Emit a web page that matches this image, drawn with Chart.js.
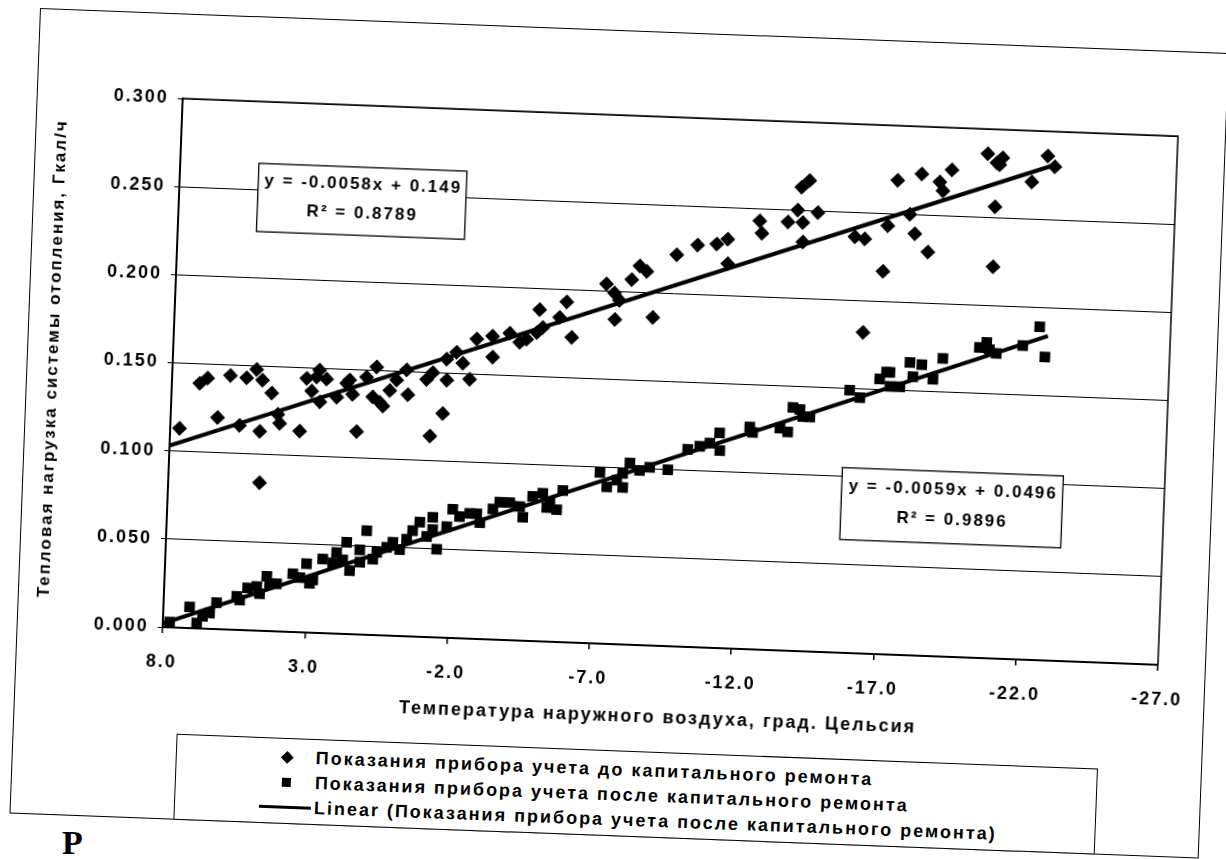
<!DOCTYPE html>
<html>
<head>
<meta charset="utf-8">
<script src="https://cdn.jsdelivr.net/npm/chart.js@4.4.1/dist/chart.umd.min.js"></script>
<style>
  html,body{margin:0;padding:0;background:#fff;width:1226px;height:859px;overflow:hidden}
  #sheet{position:absolute;left:40px;top:8px;width:1190px;height:806px;transform-origin:0 0;transform:rotate(2.17deg)}
  #frame{position:absolute;left:0;top:0;width:1190px;height:806px;box-sizing:border-box;border:1.5px solid #000}
  #plot{position:absolute;left:0;top:0}
  #legend{position:absolute;left:164px;top:720px;width:922px;height:86px;box-sizing:border-box;border:1.5px solid #000;background:#fff;
    font:bold 18px "Liberation Sans",Arial,sans-serif;letter-spacing:2px;color:#000}
  .lg-row{position:absolute;left:0;height:25px;line-height:25px;white-space:nowrap}
  .lg-txt{position:absolute;left:139px;top:0}
  .lg-dia{position:absolute;left:106px;top:8px;width:9px;height:9px;background:#000;transform:rotate(45deg)}
  .lg-sq{position:absolute;left:106px;top:8px;width:9px;height:9px;background:#000}
  .lg-line{position:absolute;left:84px;top:11px;width:52px;height:3px;background:#000}
  #caption{position:absolute;left:62px;top:824px;font:bold 34px "Liberation Serif",serif;color:#000}
</style>
</head>
<body>
<div id="sheet">
  <div id="frame"></div>
  <canvas id="plot" width="1190" height="710"></canvas>
  <div id="legend"></div>
</div>
<div id="caption">Р</div>
<script>
  // axis ticks and titles
  var X_TICKS = [8, 3, -2, -7, -12, -17, -22, -27];
  var Y_TICKS = [0, 0.05, 0.1, 0.15, 0.2, 0.25, 0.3];
  var X_TITLE = 'Температура наружного воздуха, град. Цельсия';
  var Y_TITLE = 'Тепловая нагрузка системы отопления, Гкал/ч';
  var SERIES_LABELS = [
    'Показания прибора учета до капитального ремонта',
    'Показания прибора учета после капитального ремонта',
    'Linear (Показания прибора учета после капитального ремонта)'
  ];

  // before repair: outdoor temp / heat load (diamonds)
  var BEFORE_T = [7.67,7.02,6.75,6.35,5.95,5.38,5.04,4.82,4.48,4.85,5.57,4.24,4.16,4.79,3.45,3.27,2.92,2.57,3.08,2.78,
    2.19,1.64,1.76,1.45,1.17,0.83,0.93,0.56,0.34,0.11,-0.23,-0.30,-0.94,-1.15,-1.13,-1.55,-1.62,-1.96,-2.19,-2.45,
    -2.65,-3.20,-3.23,-3.80,-4.40,-4.75,-4.82,-4.95,-5.76,-5.53,-5.98,-7.13,-7.42,-7.61,-7.47,-8.01,-8.28,-8.53,-8.80,-9.56,
    -10.28,-10.95,-11.33,-11.36,-12.43,-12.52,-13.42,-13.75,-13.94,-13.97,-13.86,-14.13,-14.46,-15.79,-16.14,-16.20,-16.82,-16.93,-17.22,-17.69,
    -17.89,-18.06,-18.37,-18.70,-18.82,-19.11,-20.35,-20.68,-20.67,-20.68,-20.88,-20.78,-21.93,-22.46,-22.72,
    0.68,2.83,1.86,-1.65,-4.16];
  var BEFORE_Q = [0.113,0.139,0.142,0.120,0.144,0.143,0.148,0.142,0.135,0.113,0.116,0.123,0.118,0.084,0.114,0.144,0.145,0.144,0.137,0.131,
    0.134,0.136,0.144,0.115,0.146,0.152,0.135,0.130,0.139,0.145,0.151,0.137,0.146,0.150,0.114,0.127,0.158,0.162,0.156,0.147,
    0.170,0.172,0.160,0.174,0.171,0.175,0.188,0.178,0.193,0.184,0.173,0.204,0.199,0.195,0.184,0.207,0.215,0.212,0.186,0.222,
    0.228,0.229,0.232,0.218,0.243,0.236,0.243,0.250,0.243,0.232,0.263,0.267,0.249,0.236,0.235,0.182,0.217,0.243,0.269,0.250,
    0.239,0.273,0.229,0.269,0.264,0.276,0.286,0.281,0.256,0.222,0.284,0.280,0.271,0.286,0.280,
    0.132,0.149,0.142,0.146,0.169];

  // after repair (squares)
  var AFTER_T = [7.76,7.08,6.81,6.37,6.14,5.44,5.07,4.75,4.41,4.06,3.50,3.03,2.79,2.47,1.99,1.65,1.51,1.18,0.96,0.71,
    0.24,-0.22,-0.45,-0.89,-1.34,-1.52,-1.84,-2.28,-2.63,-3.00,-3.44,-4.02,-4.50,-4.82,-5.43,-5.33,-5.68,-5.87,-7.15,-7.41,
    -7.75,-7.97,-8.19,-8.54,-8.89,-9.53,-10.20,-10.97,-11.30,-11.33,-12.35,-12.46,-13.41,-13.69,-13.84,-14.09,-14.45,-15.81,-16.18,-16.85,
    -17.20,-17.57,-17.89,-18.31,-18.01,-18.72,-19.04,-20.56,-20.66,-20.91,-17.08,-20.31,-21.83,-22.40,-22.62,
    6.61,5.33,4.64,4.30,3.25,2.90,2.11,1.77,1.16,0.58,0.03,-0.65,-1.15,-1.35,-2.03,-2.88,-3.67,-4.38,-5.17,
    -7.95,-10.62,-14.20,-17.22];
  var AFTER_Q = [0.003,0.012,0.003,0.009,0.015,0.019,0.024,0.025,0.031,0.027,0.033,0.039,0.030,0.042,0.046,0.052,0.036,0.048,0.059,0.043,
    0.050,0.049,0.055,0.065,0.068,0.050,0.063,0.069,0.071,0.066,0.074,0.078,0.070,0.082,0.079,0.076,0.075,0.086,0.097,0.089,
    0.093,0.089,0.103,0.099,0.101,0.100,0.112,0.116,0.122,0.112,0.126,0.123,0.126,0.124,0.138,0.137,0.133,0.149,0.145,0.156,
    0.160,0.152,0.166,0.165,0.158,0.157,0.169,0.179,0.175,0.173,0.160,0.176,0.178,0.189,0.172,
    0.007,0.017,0.021,0.027,0.031,0.028,0.040,0.042,0.041,0.047,0.053,0.060,0.057,0.061,0.073,0.071,0.078,0.076,0.084,
    0.097,0.114,0.133,0.152];

  // trend line ends
  var TREND_BEFORE_T = [8, -22.7], TREND_BEFORE_Q = [0.103, 0.281];
  var TREND_AFTER_T = [8, -22.7], TREND_AFTER_Q = [0.002, 0.184];
  var EQ_BEFORE = ['y = -0.0058x + 0.149', 'R² = 0.8789'];
  var EQ_AFTER = ['y = -0.0059x + 0.0496', 'R² = 0.9896'];

  // label boxes as fractions of the plot area: left, top, width, height
  var EQ_BOX_BEFORE = [0.079, 0.117, 0.209, 0.129];
  var EQ_BOX_AFTER = [0.676, 0.650, 0.222, 0.136];

  var FONT = '"Liberation Sans", Arial, sans-serif';

  function pts(xs, ys){ return xs.map(function(x, i){ return {x: x, y: ys[i]}; }); }

  function drawEq(ctx, a, lines, box){
    var w = a.right - a.left, h = a.bottom - a.top;
    var x = a.left + box[0]*w, y = a.top + box[1]*h, bw = box[2]*w, bh = box[3]*h;
    ctx.fillStyle = '#fff'; ctx.fillRect(x, y, bw, bh);
    ctx.strokeStyle = '#000'; ctx.lineWidth = 1.3; ctx.strokeRect(x, y, bw, bh);
    ctx.fillStyle = '#000'; ctx.font = 'bold 17px ' + FONT;
    ctx.textAlign = 'center'; ctx.textBaseline = 'middle';
    ctx.fillText(lines[0], x + bw/2 + 1, y + bh*0.25);
    ctx.fillText(lines[1], x + bw/2 + 1, y + bh*0.68);
  }

  var decor = {
    id: 'decor',
    beforeDraw: function(chart){ chart.ctx.letterSpacing = '2px'; },
    afterDatasetsDraw: function(chart){
      var ctx = chart.ctx, a = chart.chartArea;
      ctx.save();
      ctx.strokeStyle = '#000'; ctx.lineWidth = 1.5;
      ctx.beginPath(); ctx.moveTo(a.left, a.top); ctx.lineTo(a.right, a.top); ctx.lineTo(a.right, a.bottom); ctx.stroke();
      drawEq(ctx, a, EQ_BEFORE, EQ_BOX_BEFORE);
      drawEq(ctx, a, EQ_AFTER, EQ_BOX_AFTER);
      ctx.restore();
    },
    afterDraw: function(chart){
      var ctx = chart.ctx, a = chart.chartArea;
      ctx.save();
      ctx.fillStyle = '#000'; ctx.textAlign = 'center'; ctx.textBaseline = 'middle';
      ctx.font = 'bold 18px ' + FONT;
      ctx.fillText(X_TITLE, (a.left + a.right)/2, a.bottom + 72);
      ctx.font = 'bold 17px ' + FONT;
      ctx.translate(26, (a.top + a.bottom)/2);
      ctx.rotate(-Math.PI/2);
      ctx.fillText(Y_TITLE, 0, 0);
      ctx.restore();
    }
  };

  var chart = new Chart(document.getElementById('plot'), {
    type: 'scatter',
    data: {
      datasets: [
        {label: SERIES_LABELS[0], data: pts(BEFORE_T, BEFORE_Q), pointStyle: 'rectRot', pointRadius: 7.5,
          backgroundColor: '#000', borderColor: '#000', borderWidth: 0, order: 2, legend: 'dia'},
        {label: SERIES_LABELS[1], data: pts(AFTER_T, AFTER_Q), pointStyle: 'rect', pointRadius: 7.5,
          backgroundColor: '#000', borderColor: '#000', borderWidth: 0, order: 2, legend: 'sq'},
        {label: 'Linear (' + SERIES_LABELS[0] + ')', data: pts(TREND_BEFORE_T, TREND_BEFORE_Q), showLine: true,
          pointRadius: 0, borderColor: '#000', borderWidth: 4, order: 1},
        {label: SERIES_LABELS[2], data: pts(TREND_AFTER_T, TREND_AFTER_Q), showLine: true,
          pointRadius: 0, borderColor: '#000', borderWidth: 4, order: 1, legend: 'line'}
      ]
    },
    options: {
      responsive: false, animation: false, devicePixelRatio: 1,
      layout: {padding: {left: 16, top: 85, right: 48, bottom: 0}},
      plugins: {legend: {display: false}, tooltip: {enabled: false}},
      scales: {
        x: {
          type: 'linear', min: -27, max: 8, reverse: true,
          afterBuildTicks: function(s){ s.ticks = X_TICKS.map(function(v){ return {value: v}; }); },
          afterFit: function(s){ s.height = 96; },
          ticks: {autoSkip: false, maxRotation: 0, padding: 18, color: '#000',
            font: {family: FONT, size: 18, weight: 'bold'},
            callback: function(v){ return Number(v).toFixed(1); }},
          grid: {drawOnChartArea: false, drawTicks: true, tickLength: 6, color: '#000', lineWidth: 1.5},
          border: {display: true, color: '#000', width: 2}
        },
        y: {
          type: 'linear', min: 0, max: 0.3,
          afterBuildTicks: function(s){ s.ticks = Y_TICKS.map(function(v){ return {value: v}; }); },
          afterFit: function(s){ s.width = 130; },
          ticks: {padding: 9, color: '#000', font: {family: FONT, size: 18, weight: 'bold'},
            callback: function(v){ return Number(v).toFixed(3); }},
          grid: {color: '#000', lineWidth: 1, tickLength: 5},
          border: {display: true, color: '#000', width: 2}
        }
      }
    },
    plugins: [decor]
  });

  // legend box built from the chart's own datasets
  var legend = document.getElementById('legend');
  chart.data.datasets.filter(function(d){ return d.legend; }).forEach(function(d, i){
    var row = document.createElement('div');
    row.className = 'lg-row';
    row.style.top = (6 + i*25) + 'px';
    row.style.width = '100%';
    row.innerHTML = '<span class="lg-' + (d.legend === 'dia' ? 'dia' : d.legend === 'sq' ? 'sq' : 'line') + '"></span>' +
      '<span class="lg-txt">' + d.label + '</span>';
    legend.appendChild(row);
  });
</script>
</body>
</html>
